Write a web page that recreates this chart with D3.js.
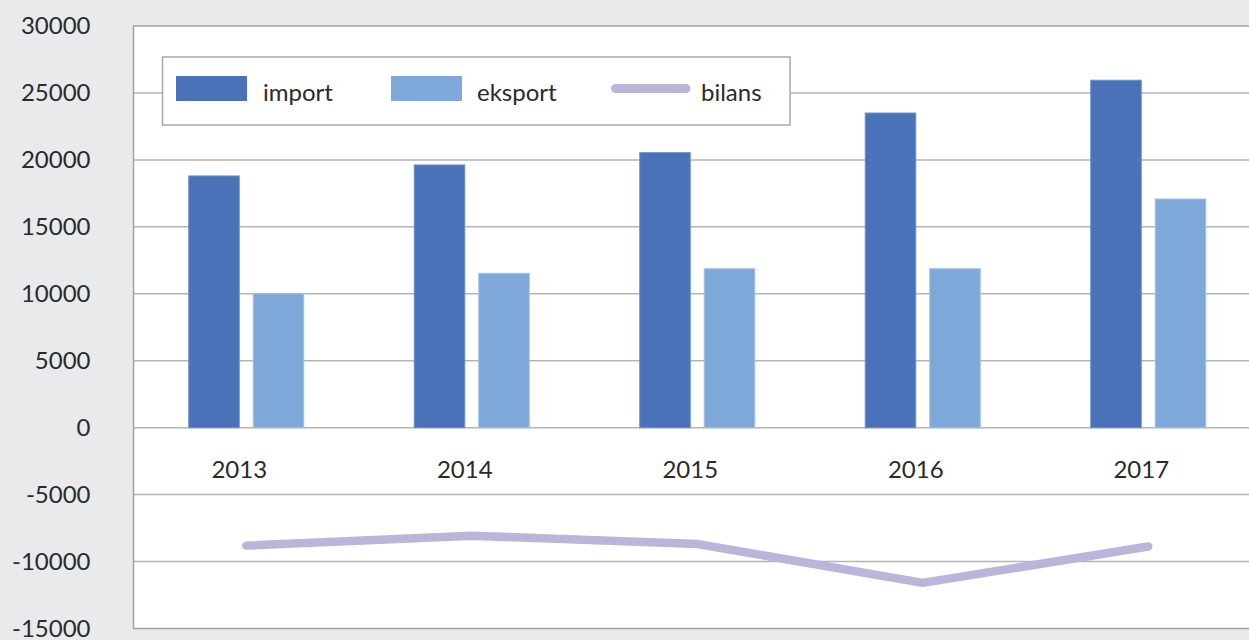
<!DOCTYPE html>
<html>
<head>
<meta charset="utf-8">
<script src="https://cdn.jsdelivr.net/npm/d3@7/dist/d3.min.js"></script>
<style>
  html, body { margin: 0; padding: 0; background: #e9eaec; }
  svg { display: block; }
  text { font-family: Lato, "Open Sans", sans-serif; fill: #2a2a2a; }
</style>
</head>
<body>
<svg id="chart" width="1249" height="640"></svg>
<script>
// Trade figures per year
const years = ["2013", "2014", "2015", "2016", "2017"];
const importValues = [18800, 19620, 20540, 23500, 25950];
const exportValues = [10000, 11530, 11870, 11870, 17080];
const bilansValues = [-8810, -8070, -8690, -11590, -8880];
const yTicks = [-15000, -10000, -5000, 0, 5000, 10000, 15000, 20000, 25000, 30000];

const seriesNames = ["import", "eksport", "bilans"];
const seriesColors = ["#4a72b8", "#7ea8d9", "#bab6da"];
const barEdges = ["#6a8ecb", "#a2c0e6"];

const W = 1249, H = 640;
const plot = { left: 133.5, top: 26, right: 1261, bottom: 628.5 };

const svg = d3.select("#chart");

const x = d3.scaleBand()
  .domain(years)
  .range([plot.left, plot.right])
  .paddingInner(0.49)
  .paddingOuter(0.245);

const xInner = d3.scaleBand()
  .domain(seriesNames.slice(0, 2))
  .range([0, x.bandwidth()])
  .paddingInner(0.217);

const y = d3.scaleLinear()
  .domain([-15000, 30000])
  .range([plot.bottom, plot.top]);

// white plotting area
svg.append("rect")
  .attr("x", plot.left).attr("y", plot.top)
  .attr("width", W - plot.left + 10).attr("height", plot.bottom - plot.top)
  .attr("fill", "#ffffff");

// horizontal gridlines
svg.append("g")
  .selectAll("line")
  .data(yTicks.filter(v => v > -15000 && v < 30000))
  .join("line")
  .attr("x1", plot.left).attr("x2", W + 10)
  .attr("y1", d => y(d)).attr("y2", d => y(d))
  .attr("stroke", "#b4b4b4").attr("stroke-width", 1.5);

// plot frame: top, left, bottom
svg.append("path")
  .attr("d", `M${W + 10},${plot.top}H${plot.left}V${plot.bottom}H${W + 10}`)
  .attr("fill", "none")
  .attr("stroke", "#a3a3a3")
  .attr("stroke-width", 1.5);

// bars
const barSeries = [importValues, exportValues];
barSeries.forEach((values, si) => {
  svg.append("g")
    .selectAll("rect")
    .data(values.map((v, i) => ({ year: years[i], value: v })))
    .join("rect")
    .attr("x", d => x(d.year) + xInner(seriesNames[si]))
    .attr("width", xInner.bandwidth())
    .attr("y", d => y(Math.max(0, d.value)))
    .attr("height", d => Math.abs(y(d.value) - y(0)))
    .attr("fill", seriesColors[si])
    .attr("stroke", barEdges[si])
    .attr("stroke-width", 1);
});

// balance line
const line = d3.line()
  .x((d, i) => x(years[i]) + x.bandwidth() / 2)
  .y(d => y(d));

svg.append("path")
  .datum(bilansValues)
  .attr("d", line)
  .attr("fill", "none")
  .attr("stroke", seriesColors[2])
  .attr("stroke-width", 8.5)
  .attr("stroke-linecap", "round")
  .attr("stroke-linejoin", "round");

// y axis labels
const yAxis = d3.axisLeft(y)
  .tickValues(yTicks)
  .tickSize(0)
  .tickPadding(43)
  .tickFormat(d => String(d));

svg.append("g")
  .attr("transform", `translate(${plot.left},0)`)
  .call(yAxis)
  .call(g => g.select(".domain").remove())
  .call(g => g.selectAll("text")
    .style("font-family", "Lato, 'Open Sans', sans-serif")
    .style("font-size", "24px")
    .attr("fill", "#2a2a2a"));

// category labels below the zero line
const xAxis = d3.axisBottom(x)
  .tickSize(0)
  .tickPadding(33);

svg.append("g")
  .attr("transform", `translate(-7,${y(0)})`)
  .call(xAxis)
  .call(g => g.select(".domain").remove())
  .call(g => g.selectAll("text")
    .style("font-family", "Lato, 'Open Sans', sans-serif")
    .style("font-size", "24px")
    .attr("fill", "#2a2a2a"));

// legend
const legend = svg.append("g");
legend.append("rect")
  .attr("x", 162.5).attr("y", 57)
  .attr("width", 627.5).attr("height", 68)
  .attr("fill", "#ffffff")
  .attr("stroke", "#a8a8a8")
  .attr("stroke-width", 1.5);

const legendKeyX = [176, 391, 611];
const legendTextX = [263, 477, 701];

seriesNames.forEach((name, i) => {
  if (i < 2) {
    legend.append("rect")
      .attr("x", legendKeyX[i]).attr("y", 76)
      .attr("width", 71).attr("height", 25)
      .attr("fill", seriesColors[i]);
  } else {
    legend.append("line")
      .attr("x1", legendKeyX[i] + 4.5).attr("x2", legendKeyX[i] + 75)
      .attr("y1", 88.5).attr("y2", 88.5)
      .attr("stroke", seriesColors[i])
      .attr("stroke-width", 9)
      .attr("stroke-linecap", "round");
  }
  legend.append("text")
    .attr("x", legendTextX[i]).attr("y", 101)
    .style("font-size", "24px")
    .text(name);
});
</script>
</body>
</html>
